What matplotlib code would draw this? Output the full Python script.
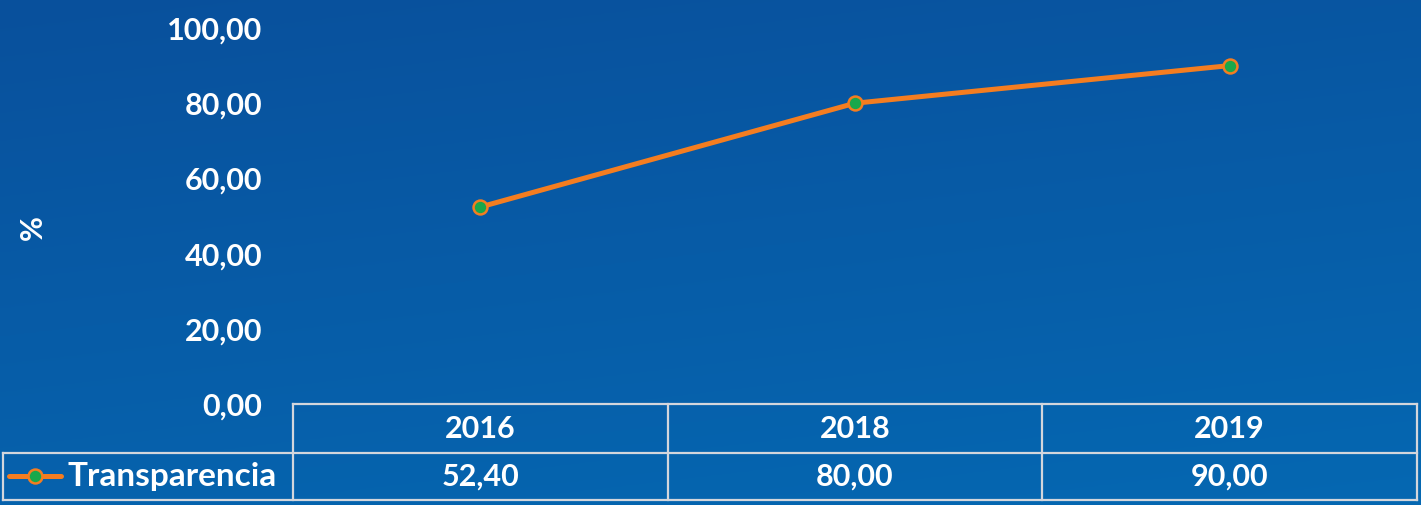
import numpy as np
import matplotlib
matplotlib.use("Agg")
import matplotlib.pyplot as plt
from matplotlib.transforms import blended_transform_factory
from matplotlib.lines import Line2D

plt.rcParams['font.family'] = ['Lato', 'DejaVu Sans']

# Data
years = ["2016", "2018", "2019"]
series_name = "Transparencia"
values = [52.40, 80.00, 90.00]
y_ticks = [0, 20, 40, 60, 80, 100]

W, H = 1421, 505
fig = plt.figure(figsize=(W / 100, H / 100), dpi=100)

# Blue gradient background
bg = fig.add_axes([0, 0, 1, 1], zorder=-10)
gy, gx = np.mgrid[0:1:200j, 0:1:400j]
top = np.array([9, 80, 156]) / 255
bot = np.array([5, 104, 178]) / 255
t = (0.75 * gy + 0.25 * gx)[..., None]
img = top * (1 - t) + bot * t
bg.imshow(img, aspect='auto', extent=[0, 1, 0, 1], origin='upper')
bg.axis('off')

def fx(px):
    return px / W

def fy(py):
    return 1 - py / H

ax = fig.add_axes([fx(293), fy(404), fx(1417) - fx(293), fy(28) - fy(404)])
ax.patch.set_alpha(0)
for s in ax.spines.values():
    s.set_visible(False)

fmt = lambda v: f"{v:.2f}".replace(".", ",")
FS = 22

line_color = "#f47d20"
marker_color = "#19a84b"
x = np.arange(len(years))
ax.plot(x, values, color=line_color, lw=3.6, marker='o', ms=10,
        mfc=marker_color, mec=line_color, mew=1.8, solid_capstyle='round', zorder=5)

ax.set_xlim(-0.5, len(years) - 0.5)
ax.set_ylim(0, 100)
ax.set_xticks([])
ax.set_yticks(y_ticks)
ax.set_yticklabels([fmt(v) for v in y_ticks], color='white', fontsize=FS,
                   fontweight='bold')
ax.tick_params(axis='y', length=0, pad=22)
fig.text(fx(33), fy(228), "%", rotation=90, color='white', fontsize=FS,
         fontweight='bold', ha='center', va='center')

# Data table beneath the plot
grid_c = "#d3d6dc"
tr = blended_transform_factory(ax.transData, fig.transFigure)
ftr = fig.transFigure
lw = 1.6
y_top, y_mid, y_bot = fy(404), fy(453), fy(500)
x_left, x_lab = fx(3), fx(293)
x_right = fx(1417)

def hline(x0, x1, y):
    fig.add_artist(Line2D([x0, x1], [y, y], color=grid_c, lw=lw, transform=ftr))

def vline(xv, y0, y1):
    fig.add_artist(Line2D([xv, xv], [y0, y1], color=grid_c, lw=lw, transform=ftr))

hline(x_lab, x_right, y_top)
hline(x_left, x_right, y_mid)
hline(x_left, x_right, y_bot)
vline(x_left, y_mid, y_bot)
for b in np.arange(len(years) + 1) - 0.5:
    xb = ftr.inverted().transform(ax.transData.transform((b, 0)))[0]
    vline(xb, y_bot, y_top)

for i, (yr, v) in enumerate(zip(years, values)):
    ax.text(i, (y_top + y_mid) / 2, yr, transform=tr, ha='center', va='center',
            color='white', fontsize=FS, fontweight='bold')
    ax.text(i, (y_mid + y_bot) / 2, fmt(v), transform=tr, ha='center',
            va='center', color='white', fontsize=FS, fontweight='bold')

# Legend key inside the row label cell
ky = fy(476)
fig.add_artist(Line2D([fx(9), fx(61)], [ky, ky], color=line_color, lw=3.6,
                      solid_capstyle='round', transform=ftr))
fig.add_artist(Line2D([fx(35)], [ky], marker='o', ms=10, mfc=marker_color,
                      mec=line_color, mew=1.8, transform=ftr))
fig.text(fx(68), (y_mid + y_bot) / 2, series_name, color='white', fontsize=24,
         fontweight='bold', ha='left', va='center')

fig.savefig("out.png", dpi=100)
